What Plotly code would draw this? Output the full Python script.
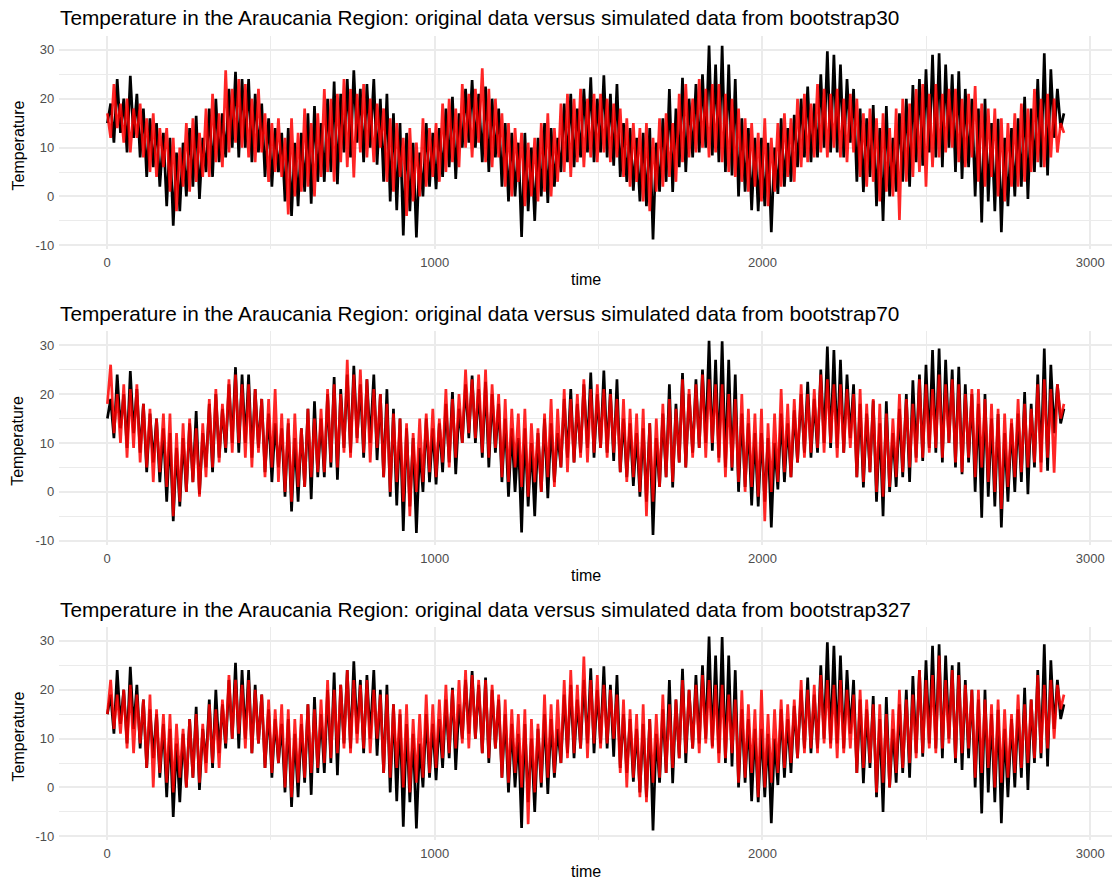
import plotly.graph_objects as go

# ---------------- data (one value every ~10 days) ----------------
original_temp = [
    15, 19, 11, 24, 13, 20,
    9, 24.7, 12, 21, 8, 18,
    4, 16, 6, 15, 2, 13,
    -2, 12, -6, 9, -3, 11,
    0, 14, 2, 16.5, -0.5, 12,
    5, 18, 4, 20, 7, 17,
    8, 22, 10, 25.5, 8, 24,
    10, 24, 7, 21, 9, 19,
    4, 16, 2, 14, 5, 13,
    -1, 14, -4, 11, -2, 13,
    1, 17, -1.5, 18.5, 3, 15,
    3, 20, 5, 23.5, 2.5, 21,
    9, 24, 8, 25.8, 11, 22,
    7, 23, 10, 24, 6.5, 20,
    3, 21, -1, 17, -2.8, 15,
    -8, 13, -3, 11, -8.4, 9,
    0, 15, 2, 13, 1.5, 14,
    4, 18, 6, 20.4, 3.6, 17,
    10, 22, 11, 23.8, 10, 21,
    7, 22.5, 5, 20, 8, 18,
    2, 15, -1, 13, 0, 11,
    -8.3, 13, -3, 10, -5, 12,
    0, 15, -1.3, 14, 2, 12,
    5, 19, 7, 21, 6, 18,
    8, 22, 9, 24.4, 7, 20,
    9, 24.8, 8, 21, 6.3, 23,
    4, 15, 3, 14, 1.2, 12,
    -1, 13, -2, 14, -8.8, 11,
    1, 16, 3, 22, 0.9, 18,
    6, 24.3, 5, 20, 8, 23,
    9, 25, 10, 30.9, 8.4, 27,
    7, 30.8, 5, 27, 4.3, 24,
    0, 16, 1, 14, -2.8, 12,
    -3, 12, -2, 11, -7.3, 10,
    0.5, 16, 2, 14, 3, 16.7,
    6, 20, 8, 22.5, 7, 19,
    8, 25, 10, 29.7, 9, 29,
    9, 27, 8, 24, 11, 22,
    3, 18, 0.9, 16, 4, 18.7,
    -2, 14, -5, 18.5, 0, 12,
    1, 17, 3, 20, 2, 22.8,
    7, 24, 6.3, 26, 9, 29,
    8, 29.3, 6, 27, 10, 25,
    5, 25.6, 3.6, 22, 6, 20,
    0, 18, -5.3, 20, -1, 15,
    -3, 15.9, -7.3, 12, -2, 14,
    0, 16, 2, 20.4, -0.5, 18,
    5, 24, 6, 29.3, 4.3, 26,
    12, 22, 14, 17,
]

sim_bootstrap30 = [
    17, 12, 23, 14, 19, 11,
    20, 9, 18, 12, 19, 8,
    16, 5, 17, 4, 14, 6,
    14, 1, 12, -3, 10, 2,
    15, 1, 16, 3, 13, 4,
    18, 4, 21, 7, 17, 6,
    25.8, 9, 22, 11, 24, 10,
    23, 8, 20, 7, 22, 9,
    17, 3, 15, 5, 16, 4,
    12, -3.7, 16, 0, 13, 1,
    18, 2, 15, 0, 17, 4,
    22, 5, 20, 3, 21, 7,
    24, 6, 22, 3.9, 21, 9,
    23, 8, 20, 7, 19, 10,
    18, 3, 16, 1, 15, 4,
    12, -4, 14, -1, 11, 0,
    16, 2, 14, 4, 15, 3,
    19, 5, 20, 7, 18, 6,
    23, 10, 21, 8, 22, 11,
    26.2, 7, 22, 6, 20, 8,
    17, 2, 15, 0, 14, 3,
    13, -2, 11, 0, 12, -1,
    15, 1, 17, 0, 14, 3,
    19, 5, 21, 4, 20, 7,
    22, 6, 20, 8, 21, 7,
    21, 9, 20, 7, 19, 8,
    18, 4, 16, 2, 15, 3,
    14, -1, 15, -3, 12, 1,
    16, 2, 17, 4, 15, 3,
    21, 7, 23, 8, 20, 9,
    24, 10, 22, 8, 23, 9,
    23, 7, 21, 5, 20, 4,
    18, 3, 16, 1, 15, 2,
    13, -1, 16, -2, 12, 1,
    15, 2, 17, 4, 16, 3,
    20, 6, 21, 7, 19, 8,
    23, 9, 22, 8, 21, 10,
    22, 8, 20, 7, 21, 9,
    20, 4, 17, 2, 18, 3,
    16, -1, 17, 1, 14, 0,
    18, -4.8, 20, 3, 19, 4,
    22, 5, 23, 2, 21, 6,
    23, 8, 21, 9, 22, 10,
    22, 7, 20, 6, 21, 8,
    22.6, 3, 19, 2, 18, 4,
    18, 0, 16, -1, 15, 2,
    17, 2, 19, 3, 18, 5,
    22, 7, 20, 6, 21, 8,
    20, 9, 15, 13,
]

sim_bootstrap70 = [
    18, 26, 12, 20, 10, 22,
    7, 21, 9, 22, 6, 18,
    5, 17, 2, 15, 4, 16,
    1, 16, -5, 12, -2, 14,
    0, 15, 2, 13, -1, 14,
    3, 19, 5, 21, 6, 18,
    9, 23, 8, 24, 10, 22,
    7, 22, 5, 21, 8, 19,
    3, 19, 5, 21, 2, 16,
    0, 15, -2, 16, 1, 13,
    1, 17, 3, 15, 4, 17,
    4, 21, 6, 22, 5, 20,
    8, 27, 7, 24, 10, 25,
    8, 23, 6, 21, 9, 20,
    3, 18, 0, 16, 2, 15,
    -2, 14, -5, 12, 0, 15,
    2, 16, 4, 17, 3, 15,
    6, 21, 5, 19, 7, 20,
    10, 25, 12, 23, 11, 24,
    8, 25, 7, 22, 9, 20,
    3, 19, 2, 17, 5, 16,
    1, 17, -1, 14, 2, 13,
    0, 16, 3, 19, 1, 17,
    5, 21, 4, 19, 6, 20,
    7, 23, 6, 21, 8, 22,
    9, 21, 7, 20, 8, 19,
    4, 19, 2, 17, 3, 16,
    0, 17, -5, 14, -2, 15,
    1, 18, 3, 19, 2, 17,
    6, 23, 5, 21, 7, 22,
    9, 24, 7, 23, 10, 22,
    6, 22, 3, 20, 5, 19,
    2, 20, 0, 17, 1, 16,
    -1, 17, -6, 14, 0, 16,
    2, 21, 4, 18, 3, 19,
    6, 22, 7, 20, 8, 21,
    9, 24, 8, 23, 10, 22,
    7, 22, 8, 21, 9, 20,
    3, 21, 2, 18, 4, 19,
    0, 18, -1, 16, 1, 15,
    3, 20, 4, 19, 5, 18,
    6, 23, 7, 22, 8, 21,
    9, 24, 7, 22, 10, 23,
    6, 22, 4, 20, 7, 21,
    3, 21, 5, 19, 2, 18,
    0, 17, -3.5, 16, 1, 15,
    3, 19, 4, 18, 5, 17,
    6, 22, 4, 23, 7, 21,
    3.9, 22, 15, 18,
]

sim_bootstrap327 = [
    15, 22, 12, 19, 11, 20,
    8, 21, 7, 19, 9, 18,
    4, 19, 0, 16, 3, 15,
    1, 15, -1, 13, 2, 12,
    0, 14, 2, 15, 1, 13,
    3, 17, 5, 16, 4, 18,
    9, 23, 10, 22, 11, 21,
    8, 22, 7, 20, 9, 19,
    4, 18, 3, 16, 5, 17,
    0, 16, -2, 14, 1, 15,
    2, 17, 3, 16, 4, 18,
    5, 22, 6, 20, 7, 21,
    8, 24, 7, 22, 9, 21,
    8, 22, 7, 20, 10, 19,
    3, 19, 2, 17, 4, 16,
    0, 17, -1, 14, 1, 15,
    2, 19, 3, 17, 4, 18,
    6, 21, 7, 20, 8, 22,
    9, 24, 8, 23, 10, 22,
    7, 22, 6, 21, 8, 19,
    2, 18, 1, 16, 3, 15,
    0, 16, -7.5, 14, -1, 13,
    1, 19, 2, 17, 3, 18,
    5, 22, 6, 24, 7, 21,
    8, 26.8, 6, 22, 9, 23,
    8, 21, 9, 20, 10, 19,
    3, 18, 0, 16, 2, 15,
    -2, 17, -3, 14, 1, 15,
    2, 19, 3, 17, 4, 18,
    6, 22, 7, 20, 8, 21,
    7, 23, 9, 22, 8, 21,
    5, 21, 6, 19, 7, 18,
    1, 19.9, 2, 17, 3, 16,
    -2, 20, 0, 15, 1, 16,
    3, 18, 4, 17, 5, 18,
    6, 22, 7, 20, 8, 21,
    7, 23, 9, 22, 8, 21,
    6, 22, 7, 20, 8, 19,
    3, 20, 4, 18, 5, 17,
    -1, 17, 1, 15, 0, 16,
    3, 20, 4, 18, 5, 19,
    6, 24, 7, 22, 8, 23,
    7, 27, 8, 22, 9, 24,
    6, 23, 7, 21, 8, 20,
    2, 20, 3, 18, 4, 17,
    0, 18, 1, 16, 2, 15,
    3, 19, 4, 17, 5, 18,
    6, 23, 7, 21, 8, 22,
    10, 21, 16, 19,
]

# time index (days 1..2920), one entry per sampled value
N_POINTS = len(original_temp)
day = [1 + round(i * 2919 / (N_POINTS - 1)) for i in range(N_POINTS)]

simulations = [sim_bootstrap30, sim_bootstrap70, sim_bootstrap327]
sim_names = ["bootstrap30", "bootstrap70", "bootstrap327"]

x_tick_vals = [0, 1000, 2000, 3000]
x_tick_text = ["0", "1000", "2000", "3000"]
x_minor_vals = [500, 1500, 2500]
y_tick_vals = [-10, 0, 10, 20, 30]
y_tick_text = ["-10", "0", "10", "20", "30"]
y_minor_vals = [-5, 5, 15, 25]

# ---------------- layout geometry ----------------
W, H = 1118, 886
FONT = "Liberation Sans, Arial, sans-serif"
x_domain = [59.2 / W, 1111.8 / W]
panel_px = [(35.8, 250.4), (332.5, 547.1), (629.5, 844.1)]  # (top, bottom) in px
title_y_px = [18, 315, 612]
xlab_y_px = [281, 578, 875]

fig = go.Figure()
layout = dict(
    width=W, height=H,
    margin=dict(l=0, r=0, t=0, b=0),
    paper_bgcolor="white", plot_bgcolor="white",
    showlegend=False,
    font=dict(family=FONT),
    annotations=[],
)

GRID = "#EBEBEB"
for k in range(3):
    suffix = "" if k == 0 else str(k + 1)
    xa, ya = "x" + suffix, "y" + suffix
    fig.add_trace(go.Scatter(
        x=day, y=original_temp, xaxis=xa, yaxis=ya, mode="lines",
        line=dict(color="black", width=2.7), hoverinfo="skip",
    ))
    fig.add_trace(go.Scatter(
        x=day, y=simulations[k], xaxis=xa, yaxis=ya, mode="lines",
        line=dict(color="rgba(255,0,0,0.85)", width=2.7), hoverinfo="skip",
    ))
    top, bot = panel_px[k]
    layout["xaxis" + suffix] = dict(
        domain=x_domain, range=[-146, 3066], anchor=ya,
        tickmode="array", tickvals=x_tick_vals, ticktext=x_tick_text,
        showgrid=True, gridcolor=GRID, gridwidth=1.6,
        minor=dict(tickmode="array", tickvals=x_minor_vals, showgrid=True,
                   gridcolor=GRID, gridwidth=0.8),
        zeroline=False, showline=False, ticks="",
        ticklabelstandoff=4,
        tickfont=dict(size=13, color="#4D4D4D", family=FONT),
    )
    layout["yaxis" + suffix] = dict(
        domain=[1 - bot / H, 1 - top / H], range=[-10.8, 32.9], anchor=xa,
        tickmode="array", tickvals=y_tick_vals, ticktext=y_tick_text,
        showgrid=True, gridcolor=GRID, gridwidth=1.6,
        minor=dict(tickmode="array", tickvals=y_minor_vals, showgrid=True,
                   gridcolor=GRID, gridwidth=0.8),
        zeroline=False, showline=False, ticks="",
        ticklabelstandoff=4,
        tickfont=dict(size=13, color="#4D4D4D", family=FONT),
    )
    layout["annotations"].append(dict(
        text="Temperature in the Araucania Region: original data versus simulated data from " + sim_names[k],
        xref="paper", yref="paper", x=58 / W, y=1 - title_y_px[k] / H,
        xanchor="left", yanchor="middle", showarrow=False,
        font=dict(size=20.8, color="black", family=FONT),
    ))
    layout["annotations"].append(dict(
        text="time", xref="paper", yref="paper",
        x=(x_domain[0] + x_domain[1]) / 2, y=1 - xlab_y_px[k] / H,
        xanchor="center", yanchor="middle", showarrow=False,
        font=dict(size=16, color="black", family=FONT),
    ))
    layout["annotations"].append(dict(
        text="Temperature", xref="paper", yref="paper",
        x=18 / W, y=1 - ((top + bot) / 2 + 3) / H, textangle=-90,
        xanchor="center", yanchor="middle", showarrow=False,
        font=dict(size=16, color="black", family=FONT),
    ))

fig.update_layout(**layout)
fig.write_html("out.html", config={"displayModeBar": False})
